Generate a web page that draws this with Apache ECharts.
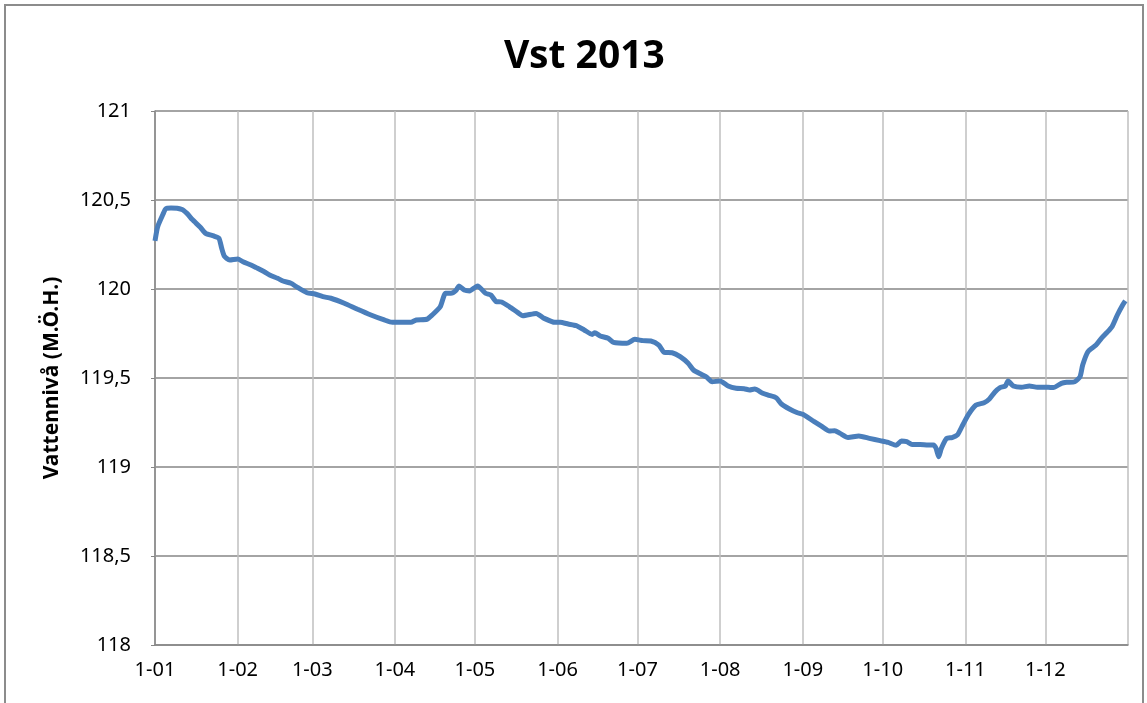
<!DOCTYPE html>
<html>
<head>
<meta charset="utf-8">
<script src="https://cdn.jsdelivr.net/npm/echarts@6/dist/echarts.min.js"></script>
<style>
	html, body { margin: 0; padding: 0; background: #fff; }
	#main { width: 1147px; height: 703px; }
</style>
</head>
<body>
<div id="main"></div>
<script>
// datum (2013) och vattennivå
var dates = [
	'2013-01-01', '2013-01-02', '2013-01-04', '2013-01-05', '2013-01-07', '2013-01-11', '2013-01-13', '2013-01-15',
	'2013-01-18', '2013-01-20', '2013-01-23', '2013-01-25', '2013-01-26', '2013-01-27', '2013-01-29',
	'2013-02-01', '2013-02-03', '2013-02-06', '2013-02-08', '2013-02-11', '2013-02-13', '2013-02-16',
	'2013-02-18', '2013-02-21', '2013-02-23', '2013-02-27',
	'2013-03-02', '2013-03-05', '2013-03-08', '2013-03-13', '2013-03-18', '2013-03-23', '2013-03-28', '2013-03-31',
	'2013-04-07', '2013-04-09', '2013-04-13', '2013-04-15', '2013-04-18', '2013-04-20', '2013-04-22',
	'2013-04-24', '2013-04-25', '2013-04-27', '2013-04-29',
	'2013-05-02', '2013-05-05', '2013-05-07', '2013-05-09', '2013-05-11', '2013-05-14', '2013-05-17',
	'2013-05-19', '2013-05-24', '2013-05-27', '2013-05-31',
	'2013-06-02', '2013-06-05', '2013-06-08', '2013-06-11', '2013-06-14', '2013-06-15', '2013-06-17',
	'2013-06-20', '2013-06-22', '2013-06-27', '2013-06-30',
	'2013-07-03', '2013-07-06', '2013-07-09', '2013-07-11', '2013-07-14', '2013-07-17', '2013-07-20',
	'2013-07-22', '2013-07-25', '2013-07-27', '2013-07-29',
	'2013-08-01', '2013-08-04', '2013-08-07', '2013-08-10', '2013-08-12', '2013-08-14', '2013-08-17',
	'2013-08-19', '2013-08-22', '2013-08-24', '2013-08-27', '2013-08-30',
	'2013-09-01', '2013-09-05', '2013-09-08', '2013-09-11', '2013-09-13', '2013-09-15', '2013-09-18',
	'2013-09-22', '2013-09-26', '2013-09-30',
	'2013-10-03', '2013-10-06', '2013-10-08', '2013-10-10', '2013-10-12', '2013-10-15', '2013-10-18',
	'2013-10-20', '2013-10-21', '2013-10-22', '2013-10-23', '2013-10-25', '2013-10-27', '2013-10-29', '2013-10-31',
	'2013-11-02', '2013-11-05', '2013-11-08', '2013-11-10', '2013-11-12', '2013-11-14', '2013-11-16',
	'2013-11-17', '2013-11-19', '2013-11-22', '2013-11-25', '2013-11-28',
	'2013-12-02', '2013-12-04', '2013-12-07', '2013-12-09', '2013-12-12', '2013-12-14', '2013-12-15',
	'2013-12-17', '2013-12-20', '2013-12-22', '2013-12-24', '2013-12-26', '2013-12-28', '2013-12-30', '2013-12-31'
];
var nivaer = [
	120.27, 120.35, 120.42, 120.45, 120.455, 120.448, 120.425, 120.39,
	120.347, 120.313, 120.298, 120.285, 120.23, 120.185, 120.163,
	120.169, 120.153, 120.135, 120.12, 120.097, 120.079, 120.06,
	120.045, 120.032, 120.013, 119.979,
	119.972, 119.957, 119.948, 119.92, 119.886, 119.854, 119.826, 119.813,
	119.813, 119.826, 119.83, 119.854, 119.9, 119.976, 119.976,
	119.994, 120.017, 119.994, 119.989,
	120.017, 119.976, 119.966, 119.929, 119.927, 119.9, 119.869,
	119.85, 119.863, 119.835, 119.813,
	119.813, 119.803, 119.794, 119.77, 119.745, 119.754, 119.736,
	119.723, 119.7, 119.695, 119.717,
	119.71, 119.708, 119.685, 119.644, 119.642, 119.62, 119.583,
	119.545, 119.52, 119.504, 119.479,
	119.483, 119.455, 119.442, 119.44, 119.433, 119.438, 119.414,
	119.404, 119.389, 119.354, 119.326, 119.305,
	119.296, 119.258, 119.23, 119.202, 119.204, 119.189, 119.166,
	119.174, 119.161, 119.148,
	119.138, 119.122, 119.146, 119.142, 119.127, 119.127, 119.124,
	119.124, 119.105, 119.058, 119.105, 119.161, 119.165, 119.18, 119.236,
	119.292, 119.348, 119.361, 119.382, 119.42, 119.446, 119.455,
	119.483, 119.455, 119.448, 119.455, 119.448,
	119.448, 119.446, 119.47, 119.476, 119.479, 119.507, 119.573,
	119.648, 119.685, 119.723, 119.754, 119.788, 119.854, 119.91, 119.933
];
var xMin = '2013-01-01';
var xMax = '2014-01-01';
var yMin = 118, yMax = 121, yStep = 0.5;

var seriesData = [];
for (var i = 0; i < dates.length; i++) {
	seriesData.push([dates[i], nivaer[i]]);
}

var myChart = echarts.init(document.getElementById('main'));
var font = 'Noto Sans';
option = {
	backgroundColor: '#fff',
	animation: false,
	title: {
		text: 'Vst 2013',
		left: 499,
		top: 32,
		textStyle: { fontFamily: font, fontSize: 39, fontWeight: 'bold', color: '#000' }
	},
	graphic: [{
		type: 'rect',
		shape: { x: 5, y: 5, width: 1138, height: 740 },
		style: { fill: null, stroke: '#8c8c8c', lineWidth: 2 },
		silent: true
	}],
	grid: { left: 155, right: 19, top: 111, bottom: 58 },
	xAxis: {
		type: 'time',
		min: xMin,
		max: xMax,
		splitNumber: 12,
		minInterval: 28 * 86400000,
		maxInterval: 31 * 86400000,
		axisLine: { lineStyle: { color: '#868686', width: 1.5 } },
		axisTick: { show: false },
		axisLabel: {
			margin: 15,
			showMaxLabel: false,
			fontFamily: font,
			fontSize: 20,
			color: '#000',
			formatter: function (value) {
				var m = new Date(value).getMonth() + 1;
				return '1-' + (m < 10 ? '0' + m : m);
			}
		},
		splitLine: { show: true, lineStyle: { color: '#bfbfbf', width: 1.5 } }
	},
	yAxis: {
		type: 'value',
		min: yMin,
		max: yMax,
		interval: yStep,
		name: 'Vattennivå (M.Ö.H.)',
		nameLocation: 'middle',
		nameGap: 92,
		nameRotate: 90,
		nameTextStyle: { fontFamily: font, fontSize: 21, fontWeight: 'bold', color: '#000' },
		axisLine: { show: true, lineStyle: { color: '#868686', width: 1.5 } },
		axisTick: { show: true, length: 4, lineStyle: { color: '#868686' } },
		axisLabel: {
			margin: 24,
			fontFamily: font,
			fontSize: 20,
			color: '#000',
			formatter: function (v) { return String(v).replace('.', ','); }
		},
		splitLine: { lineStyle: { color: '#868686', width: 1.5 } }
	},
	series: [{
		type: 'line',
		data: seriesData,
		showSymbol: false,
		smooth: 0.2,
		lineStyle: { color: '#4a7ebb', width: 5 },
		itemStyle: { color: '#4a7ebb' }
	}]
};
myChart.setOption(option);
</script>
</body>
</html>
